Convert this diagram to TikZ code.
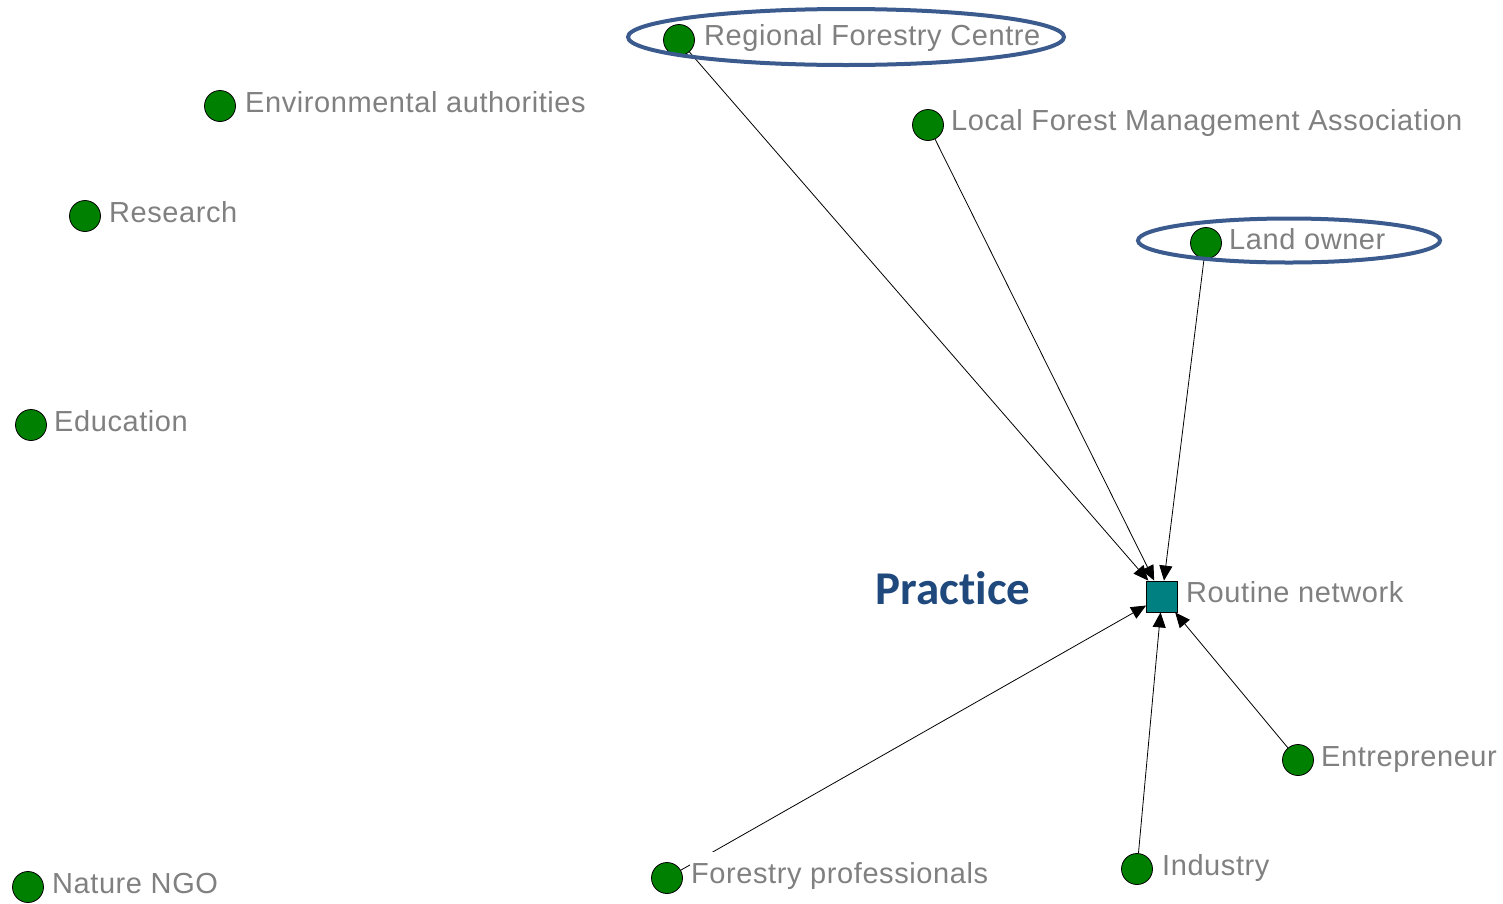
\documentclass[tikz,border=0pt]{standalone}
\usepackage{fontspec}
\setmainfont[LetterSpace=2]{Liberation Sans}
\newfontfamily\calib[Ligatures=NoCommon]{Carlito}
\usetikzlibrary{arrows.meta}
\definecolor{actorgreen}{RGB}{0,128,0}
\definecolor{teal2}{RGB}{0,128,128}
\definecolor{lblgray}{RGB}{128,128,128}
\definecolor{ringblue}{RGB}{59,91,142}
\definecolor{practiceblue}{RGB}{31,73,125}
\tikzset{
  actor/.style={circle,draw=black,line width=0.8pt,fill=actorgreen,minimum size=31pt,inner sep=0pt},
  hub/.style={rectangle,draw=black,line width=0.8pt,fill=teal2,minimum size=31pt,inner sep=0pt},
  lbl/.style={anchor=base west,text=lblgray,font=\fontsize{29}{34}\selectfont,fill=white,inner sep=1pt,text height=30pt},
  tie/.style={draw=black,line width=0.8pt,-{Triangle[length=15pt,width=13pt]}},
  ring/.style={draw=ringblue,line width=4pt}
}
\begin{document}
\begin{tikzpicture}[x=1pt,y=-1pt]
\useasboundingbox (0,0) rectangle (1503,903);
% actors
\node[actor] (rfc) at (679,40) {};
\node[actor] (env) at (220,106) {};
\node[actor] (lfma) at (928,125) {};
\node[actor] (res) at (85,216) {};
\node[actor] (land) at (1206,243) {};
\node[actor] (edu) at (31,425) {};
\node[hub] (rout) at (1162,596.5) {};
\node[actor] (entr) at (1298,760) {};
\node[actor] (ind) at (1137,869) {};
\node[actor] (fpro) at (667,878) {};
\node[actor] (ngo) at (28,887) {};
% ties
\draw[tie] (rfc) -- (rout);
\draw[tie] (lfma) -- (rout);
\draw[tie] (land) -- (rout);
\draw[tie] (fpro) -- (rout);
\draw[tie] (ind) -- (rout);
\draw[tie] (entr) -- (rout);
% labels
\node[lbl] (rfcl) at (703,45) {Regional Forestry Centre};
\node[lbl] (envl) at (244,112) {Environmental authorities};
\node[lbl] (lfmal) at (950,130) {Local Forest Management Association};
\node[lbl] (resl) at (108,222) {Research};
\node[lbl] (landl) at (1228,249) {Land owner};
\node[lbl] (edul) at (53,431) {Education};
\node[lbl] (routl) at (1185,602) {Routine network};
\node[lbl] (entrl) at (1320,766) {Entrepreneur};
\node[lbl] (indl) at (1161,875) {Industry};
\node[lbl] (fprol) at (690,883) {Forestry professionals};
\node[lbl] (ngol) at (51,893) {Nature NGO};
\node[anchor=center,text=practiceblue,font=\calib\bfseries\fontsize{47}{51}\selectfont] (prac) at (953,588) {Pract\kern0pt ice};
% highlight rings
\draw[ring] (846,37) ellipse [x radius=218, y radius=28];
\draw[ring] (1289,240.5) ellipse [x radius=151, y radius=22];
\end{tikzpicture}
\end{document}
